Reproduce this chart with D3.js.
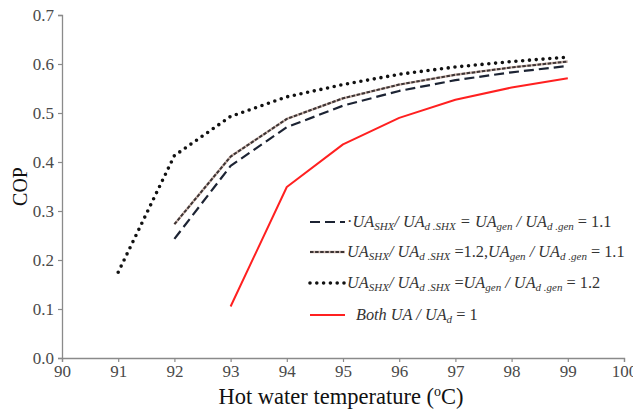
<!DOCTYPE html>
<meta charset="utf-8" />
<title>COP vs hot water temperature</title>
<script src="https://d3js.org/d3.v7.min.js"></script>
<style>
  body { margin: 0; background: #fff; }
  svg text { font-family: "Liberation Serif", Tinos, "Times New Roman", Times, serif !important; }
</style>
<svg id="chart" width="633" height="409"></svg>
<script>
  // data
  var temps     = [91, 92, 93, 94, 95, 96, 97, 98, 99];
  var copDash11 = [null, 0.243, 0.392, 0.471, 0.515, 0.545, 0.567, 0.583, 0.596];
  var copMix    = [null, 0.273, 0.411, 0.488, 0.530, 0.558, 0.578, 0.593, 0.605];
  var copDot12  = [0.175, 0.413, 0.493, 0.533, 0.558, 0.579, 0.594, 0.605, 0.614];
  var copBase   = [null, null, 0.105, 0.349, 0.436, 0.490, 0.527, 0.552, 0.571];
  var xTicks    = [90, 91, 92, 93, 94, 95, 96, 97, 98, 99, 100];
  var yTicks    = [0, 0.1, 0.2, 0.3, 0.4, 0.5, 0.6, 0.7];

  var svg = d3.select("#chart");
  var x = d3.scaleLinear().domain([90, 100]).range([62, 624]);
  var y = d3.scaleLinear().domain([0, 0.7]).range([358, 15]);

  // axes
  var xAxis = svg.append("g")
    .attr("transform", "translate(0," + y(0) + ")")
    .call(d3.axisBottom(x).tickValues(xTicks).tickSize(4).tickPadding(3).tickFormat(d3.format("d")));
  var yAxis = svg.append("g")
    .attr("transform", "translate(" + x(90) + ",0)")
    .call(d3.axisLeft(y).tickValues(yTicks).tickSize(4).tickPadding(4).tickFormat(d3.format(".1f")));
  [xAxis, yAxis].forEach(function(g) {
    g.attr("font-family", null);
    g.select(".domain").attr("stroke", "#8a8a8a").attr("stroke-width", 1.3);
    g.selectAll(".tick line").attr("stroke", "#8a8a8a").attr("stroke-width", 1.2);
    g.selectAll(".tick text").attr("fill", "#4a4a4a").style("font-size", "17px");
  });

  // axis titles
  var xt = svg.append("text")
    .attr("x", 341).attr("y", 404)
    .attr("text-anchor", "middle").style("font-size", "22.5px").attr("fill", "#111");
  xt.append("tspan").text("Hot water temperature (");
  xt.append("tspan").attr("dy", -8).style("font-size", "14px").text("o");
  xt.append("tspan").attr("dy", 8).text("C)");
  svg.append("text")
    .attr("transform", "translate(27," + ((y(0) + y(0.7)) / 2) + ") rotate(-90)")
    .attr("text-anchor", "middle").style("font-size", "20px").attr("fill", "#111")
    .text("COP");

  // series
  var series = [
    { vals: copMix, stroke: "#c9b3ab", width: 2.4, dash: null },
    { vals: copMix, stroke: "#3d3434", width: 2, dash: "3.5,1.6", cap: "butt" },
    { vals: copDash11, stroke: "#1c2333", width: 2.2, dash: "10,5", cap: "butt" },
    { vals: copDot12, stroke: "#111", width: 3.6, dash: "0,6.8", cap: "round" },
    { vals: copBase, stroke: "#ff2020", width: 2, dash: null }
  ];
  var line = d3.line()
    .defined(function(d) { return d[1] != null; })
    .x(function(d) { return x(d[0]); })
    .y(function(d) { return y(d[1]); });

  series.forEach(function(s) {
    svg.append("path")
      .datum(temps.map(function(t, i) { return [t, s.vals[i]]; }))
      .attr("d", line)
      .attr("fill", "none")
      .attr("stroke", s.stroke)
      .attr("stroke-width", s.width)
      .attr("stroke-dasharray", s.dash)
      .attr("stroke-linecap", s.cap || "butt")
      .attr("stroke-linejoin", "round");
  });

  // legend
  var legend = svg.append("g");
  var rows = [
    { y: 222, styles: [{ stroke: "#1c2333", width: 2.2, dash: "10,5" }], dot: true,
      parts: [["UA", "i"], ["SHX", "s"], ["/ UA", "i"], ["d .SHX", "s"], [" = UA", "i"], ["gen", "s"],
              [" / UA", "i"], ["d .gen", "s"], [" = 1.1", "n"]] },
    { y: 252, styles: [{ stroke: "#c9b3ab", width: 2.4, dash: null }, { stroke: "#3d3434", width: 2, dash: "3.5,1.6" }],
      parts: [["UA", "i"], ["SHX", "s"], ["/ UA", "i"], ["d .SHX", "s"], [" =1.2,", "n"], ["UA", "i"], ["gen", "s"],
              [" / UA", "i"], ["d .gen", "s"], [" = 1.1", "n"]] },
    { y: 283, styles: [{ stroke: "#111", width: 3.6, dash: "0,6.8", cap: "round" }],
      parts: [["UA", "i"], ["SHX", "s"], ["/ UA", "i"], ["d .SHX", "s"], [" =", "n"], ["UA", "i"], ["gen", "s"],
              [" / UA", "i"], ["d .gen", "s"], [" = 1.2", "n"]] },
    { y: 315, styles: [{ stroke: "#ff2020", width: 2, dash: null }], gap: 9,
      parts: [["Both UA / UA", "i"], ["d", "s"], [" = 1", "n"]] }
  ];
  rows.forEach(function(r) {
    r.styles.forEach(function(st) {
      legend.append("line")
        .attr("x1", 310).attr("x2", 345).attr("y1", r.y).attr("y2", r.y)
        .attr("stroke", st.stroke).attr("stroke-width", st.width)
        .attr("stroke-dasharray", st.dash).attr("stroke-linecap", st.cap || "butt");
    });
    var t = legend.append("text")
      .attr("x", 347 + (r.gap || 0)).attr("y", r.y + 5)
      .style("font-size", "16.3px").attr("fill", "#333");
    if (r.dot) t.append("tspan").text("·");
    var prevSub = false;
    r.parts.forEach(function(p) {
      var isSub = p[1] === "s";
      var ts = t.append("tspan").text(p[0])
        .attr("dy", isSub && !prevSub ? 3 : (!isSub && prevSub ? -3 : 0));
      if (p[1] !== "n") ts.style("font-style", "italic");
      if (isSub) ts.style("font-size", "11px");
      prevSub = isSub;
    });
  });
</script>
